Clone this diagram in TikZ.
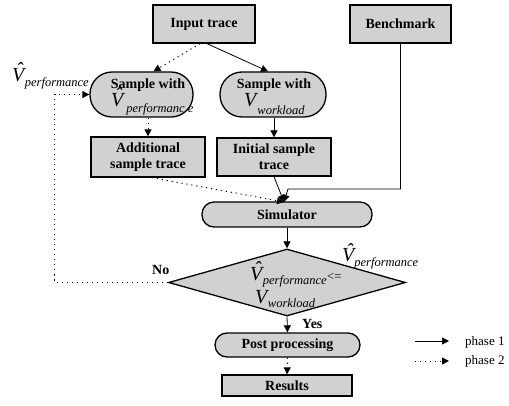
\documentclass[tikz,border=0pt]{standalone}
\usepackage{fontspec}
\setmainfont{Liberation Serif}
\usetikzlibrary{arrows.meta,shapes.geometric}
\definecolor{boxgray}{RGB}{209,209,209}
\newcommand\bfontx{\fontsize{14}{16}\selectfont\bfseries}
\newcommand\vfontx{\fontsize{20}{20}\selectfont\itshape}
\newcommand\sfontx{\fontsize{12.5}{13}\selectfont\itshape}
\newcommand\hatV{\ooalign{V\cr\hidewidth\kern2.5pt\raisebox{5pt}{\char"02C6}\hidewidth\cr}}
% #1 V text, #2 kern, #3 lowering, #4 subscript
\newcommand\Vsub[4]{{\vfontx #1}\kern#2\raisebox{-#3}{\sfontx #4}}
\tikzset{
  box/.style={draw, fill=boxgray, line width=1.3pt, inner sep=0pt, align=center, font=\bfontx},
  pill/.style={box, rounded corners=#1},
  txt/.style={inner sep=0pt, font=\bfontx},
  vlbl/.style={inner sep=0pt, anchor=base west},
  solidarr/.style={line width=0.8pt, -{Triangle[length=7pt,width=7pt]}},
  dotarr/.style={line width=1pt, dash pattern=on 1.1pt off 3.9pt, -{Triangle[length=7pt,width=7pt]}},
}
\begin{document}
\begin{tikzpicture}[x=1pt,y=-1pt]
\useasboundingbox (0,0) rectangle (509,406);
% nodes
\node[box, minimum width=102pt, minimum height=38pt] (inp) at (204,24) {Input trace};
\node[box, minimum width=101pt, minimum height=38pt] (bench) at (400.5,24) {Benchmark};
\node[pill=22pt, minimum width=103pt, minimum height=45pt] (sV) at (141.5,94.5) {};
\node[pill=22pt, minimum width=106pt, minimum height=45pt] (sW) at (273,94.5) {};
\node[box, minimum width=114pt, minimum height=40pt] (addl) at (148,157) {Additional\\sample trace};
\node[box, minimum width=114pt, minimum height=38pt] (init) at (274,157) {Initial sample\\trace};
\node[pill=12pt, minimum width=170pt, minimum height=25pt] (sim) at (287,214.5) {Simulator};
\node[box, diamond, minimum width=237pt, minimum height=67pt] (diam) at (287,282.5) {};
\node[pill=12pt, minimum width=145pt, minimum height=24pt] (post) at (287.5,345) {Post processing};
\node[box, minimum width=130pt, minimum height=21pt] (res) at (287,385.5) {Results};
% texts in the sample nodes
\node[txt, anchor=base] (sVt) at (148,89) {Sample with};
\node[vlbl] (sVv) at (111,107) {\Vsub{\hatV}{3pt}{6pt}{performanc e}};
\node[txt, anchor=base] (sWt) at (274,89) {Sample with};
\node[vlbl] (sWv) at (244,107) {\Vsub{V}{1pt}{8pt}{workload}};
% texts in the diamond
\node[vlbl] (dV1) at (250,280) {\Vsub{\hatV}{0.5pt}{5pt}{performance}};
\node[vlbl, font=\fontsize{12.5}{13}\selectfont] (le) at (327,280) {<=};
\node[vlbl] (dV2) at (255,303) {\Vsub{V}{0.5pt}{5pt}{workload}};
% outside labels
\node[vlbl] (lV) at (12,82) {\Vsub{\hatV}{0.5pt}{5pt}{performance}};
\node[vlbl] (rV) at (342,262) {\Vsub{\hatV}{0pt}{5pt}{performance}};
\node[txt, anchor=base west] (no) at (152,275) {No};
\node[txt, anchor=base west] (yes) at (302,328) {Yes};
% connectors
\coordinate (simin) at (284,202);
\coordinate (bcorner) at (288,189);
\draw[dotarr] ([xshift=-4pt]inp.south) -- ([xshift=12pt]sV.north);
\draw[solidarr] ([xshift=3pt]inp.south) -- ([xshift=-5pt]sW.north);
\draw[dotarr] (addl.north |- sV.south) -- (addl.north);
\draw[solidarr] (init.north |- sW.south) -- (init.north);
\draw[solidarr] (bench.south) |- (bcorner) -- (simin);
\draw[solidarr] (init.south) -- (simin);
\draw[dotarr] ([xshift=4pt]addl.south) -- (simin);
\draw[solidarr] (sim.south) -- (diam.north);
\draw[solidarr] (diam.south) -- (post.north);
\draw[dotarr] (post.south) -- (res.north);
\draw[dotarr] (diam.west) -- ++(-113,0) |- (sV.west);
% legend
\coordinate (l1a) at (415,341);
\coordinate (l1b) at (449,341);
\coordinate (l2a) at (415,361);
\coordinate (l2b) at (449,361);
\draw[solidarr] (l1a) -- (l1b);
\draw[dotarr] (l2a) -- (l2b);
\node[vlbl, font=\fontsize{13}{14}\selectfont] (ph1) at (465,345) {phase 1};
\node[vlbl, font=\fontsize{13}{14}\selectfont] (ph2) at (465,364) {phase 2};
\end{tikzpicture}
\end{document}
